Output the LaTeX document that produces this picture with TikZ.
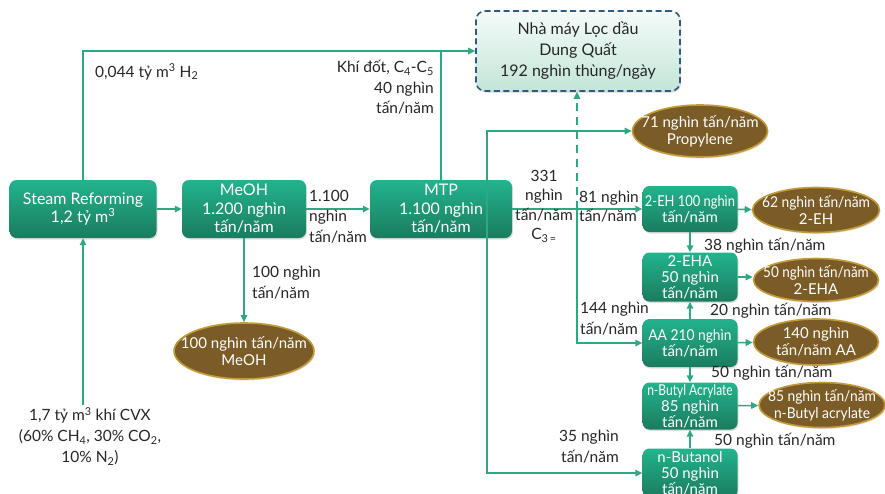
\documentclass[tikz,border=0pt]{standalone}
\usepackage{fontspec}
\setmainfont{Lato}
\usetikzlibrary{arrows.meta,shapes.geometric,shadows}

\definecolor{boxtop}{HTML}{22B48D}
\definecolor{boxbot}{HTML}{1B7B5F}
\definecolor{flowgreen}{HTML}{2EA883}
\definecolor{prodfill}{HTML}{7B5B26}
\definecolor{prodedge}{HTML}{C39B3A}
\definecolor{labeltext}{HTML}{262626}
\definecolor{refedge}{HTML}{2D5B82}
\definecolor{reftop}{HTML}{F4FBF8}
\definecolor{refbot}{HTML}{C3E5D8}

\tikzset{
  unit/.style={rectangle, rounded corners=7pt, top color=boxtop, bottom color=boxbot,
    draw=none, text=white, align=center, inner sep=0pt,
    font=\fontsize{16}{18.5}\selectfont,
    drop shadow={opacity=0.25, shadow xshift=1pt, shadow yshift=-1.5pt}},
  smallunit/.style={unit, font=\fontsize{15}{16}\selectfont},
  refinery/.style={rectangle, rounded corners=9pt, top color=reftop, bottom color=refbot,
    draw=refedge, line width=1.6pt, dash pattern=on 6pt off 3.5pt, text=labeltext,
    align=center, inner sep=0pt, font=\fontsize{16}{21}\selectfont,
    drop shadow={opacity=0.3, shadow xshift=1pt, shadow yshift=-1.5pt}},
  product/.style={ellipse, fill=prodfill, draw=prodedge, line width=1.6pt,
    inner sep=0pt,
    drop shadow={opacity=0.2, shadow xshift=1pt, shadow yshift=-1.5pt}},
  prodtext/.style={text=white, align=center, inner sep=0pt,
    font=\fontsize{15}{17}\selectfont},
  flowline/.style={draw=flowgreen, line width=1.5pt,
    -{Triangle[length=7pt,width=6.5pt]}},
  joinline/.style={draw=flowgreen, line width=1.5pt},
  note/.style={text=labeltext, inner sep=0pt, font=\fontsize{15.5}{20.5}\selectfont}
}

\begin{document}
\begin{tikzpicture}[x=1pt,y=-1pt]
\useasboundingbox (0,0) rectangle (885,493);
\clip (0,0) rectangle (885,493);

% process units
\node[unit, minimum width=147pt, minimum height=58pt] (sr) at (83,209)
  {Steam Reforming\\1,2 tỷ m\textsuperscript{3}};
\node[unit, minimum width=124pt, minimum height=58pt] (meoh) at (244,209)
  {MeOH\\1.200 nghìn\\tấn/năm};
\node[unit, minimum width=142pt, minimum height=58pt] (mtp) at (441,209)
  {MTP\\1.100 nghìn\\tấn/năm};
\node[refinery, minimum width=204pt, minimum height=80pt] (ref) at (578,51)
  {Nhà máy Lọc dầu\\Dung Quất\\192 nghìn thùng/ngày};

\node[smallunit, minimum width=95pt, minimum height=46pt] (eh) at (690,209)
  {\scalebox{0.86}[1]{2-EH 100 nghìn}\\tấn/năm};
\node[smallunit, minimum width=95pt, minimum height=49pt] (eha) at (690,277)
  {2-EHA\\50 nghìn\\tấn/năm};
\node[smallunit, minimum width=95pt, minimum height=48pt] (aa) at (690,343)
  {\scalebox{0.92}[1]{AA 210 nghìn}\\tấn/năm};
\node[smallunit, minimum width=95pt, minimum height=47pt] (nba) at (690,406)
  {\scalebox{0.8}[1]{n-Butyl Acrylate}\\85 nghìn\\tấn/năm};
\node[smallunit, minimum width=95pt, minimum height=49pt] (nbu) at (690,473)
  {n-Butanol\\50 nghìn\\tấn/năm};

% products (fixed-size ellipses, text laid on top)
\node[product, minimum width=135pt, minimum height=52pt,
  label={[prodtext]center:{71 nghìn tấn/năm\\Propylene}}] (pp) at (700,131) {};
\node[product, minimum width=127pt, minimum height=45pt,
  label={[prodtext]center:{\scalebox{0.92}[1]{62 nghìn tấn/năm}\\2-EH}}] (peh) at (816,210) {};
\node[product, minimum width=125pt, minimum height=43pt,
  label={[prodtext]center:{\scalebox{0.9}[1]{50 nghìn tấn/năm}\\2-EHA}}] (peha) at (816,280) {};
\node[product, minimum width=125pt, minimum height=46pt,
  label={[prodtext]center:{140 nghìn\\tấn/năm AA}}] (paa) at (816,342) {};
\node[product, minimum width=126pt, minimum height=45pt,
  label={[prodtext]center:{\scalebox{0.92}[1]{85 nghìn tấn/năm}\\\scalebox{0.92}[1]{n-Butyl acrylate}}}] (pnba) at (822,405) {};
\node[product, minimum width=140pt, minimum height=56pt,
  label={[prodtext]center:{100 nghìn tấn/năm\\MeOH}}] (pmeoh) at (244,351) {};

% free ends and branch points
\coordinate (cvx) at (83,405);
\coordinate (split1) at (487,209);
\coordinate (split2) at (577,209);

% connectors
\draw[flowline] (sr.north) |- (ref.west);
\draw[joinline] (mtp.north) -- (mtp.north |- ref.west);
\draw[flowline] (cvx) -- (sr.south);
\draw[flowline] (sr) -- (meoh);
\draw[flowline] (meoh) -- (mtp);
\draw[flowline] (meoh.south) -- (pmeoh.north);
\draw[flowline] (mtp.east) -- (eh.west);
\draw[flowline] (split1) |- (pp.west);
\draw[flowline] (split1) |- (nbu.west);
\draw[flowline] (split2) |- (aa.west);
\draw[flowline, dash pattern=on 8pt off 6pt] (split2) -- (split2 |- ref.south);

\draw[flowline] (eh) -- (peh);
\draw[flowline] (eha.east) -- (eha.east -| peha.west);
\draw[flowline] (aa) -- (paa);
\draw[flowline] (nba) -- (pnba);
\draw[flowline] (eh.south) -- (eha.north);
\draw[flowline] (aa.north) -- (eha.south);
\draw[flowline] (aa.south) -- (nba.north);
\draw[flowline] (nbu.north) -- (nba.south);

% flow labels
\node[note, anchor=west] (lh2) at (95,72) {0,044 tỷ m\textsuperscript{3} H\textsubscript{2}};
\node[note, anchor=north east, align=right] (lgas) at (434,60)
  {Khí đốt, C\textsubscript{4}-C\textsubscript{5}\\40 nghìn\\tấn/năm};
\node[note, anchor=north west, align=left] (lmtp) at (309,190)
  {1.100\\nghìn\\tấn/năm};
\node[note, anchor=north west, align=left] (lmeoh) at (252,266)
  {100 nghìn\\tấn/năm};
\node[note, anchor=north, align=center, font=\fontsize{15.5}{19.5}\selectfont] (lc3) at (544,170)
  {331\\nghìn\\tấn/năm\\C\textsubscript{3\,=}};
\node[note, anchor=north west, align=left, font=\fontsize{15.5}{18.5}\selectfont] (l81) at (579,191)
  {81 nghìn\\tấn/năm};
\node[note, anchor=west] (l38) at (704,246) {38 nghìn tấn/năm};
\node[note, anchor=west] (l20) at (710,311) {20 nghìn tấn/năm};
\node[note, anchor=north west, align=left] (l144) at (580,302)
  {144 nghìn\\tấn/năm};
\node[note, anchor=west] (l50a) at (711,373) {50 nghìn tấn/năm};
\node[note, anchor=west] (l50b) at (714,441) {50 nghìn tấn/năm};
\node[note, anchor=north east, align=right] (l35) at (619,430)
  {35 nghìn\\tấn/năm};
\node[note, anchor=north, align=center, font=\fontsize{15.5}{21}\selectfont] (lcvx) at (90,407)
  {1,7 tỷ m\textsuperscript{3} khí CVX\\(60\% CH\textsubscript{4}, 30\% CO\textsubscript{2},\\10\% N\textsubscript{2})};
\end{tikzpicture}
\end{document}
